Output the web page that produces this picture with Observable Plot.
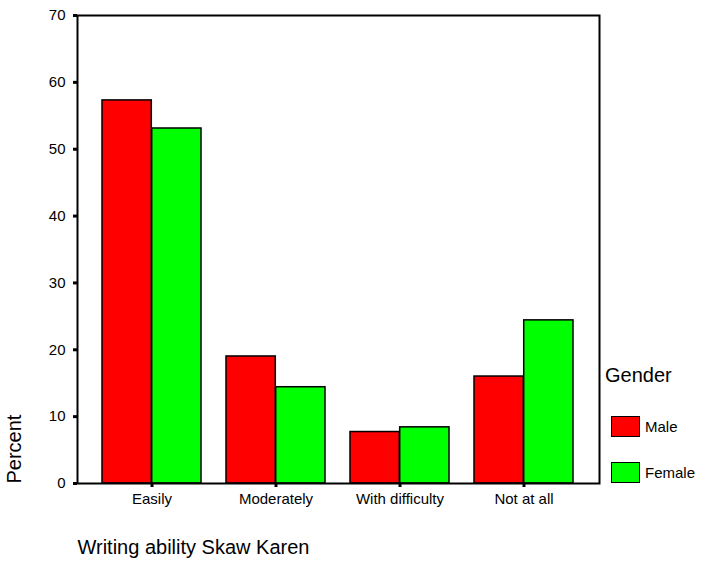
<!DOCTYPE html>
<html>
<head>
<meta charset="utf-8">
<script src="https://cdn.jsdelivr.net/npm/d3@7"></script>
<script src="https://cdn.jsdelivr.net/npm/@observablehq/plot@0.6"></script>
<style>
  body { margin: 0; background: white; }
  #wrap { position: relative; width: 702px; height: 565px; font-family: "Liberation Sans", Arial, sans-serif; color: black; }
  #legend { position: absolute; left: 605px; top: 365px; }
  #legend .title { font-size: 20px; line-height: 20px; }
  #legend .item { display: flex; align-items: center; margin-left: 6px; height: 22px; font-size: 15px; }
  #legend .swatch { width: 27px; height: 19px; border: 1.5px solid black; margin-right: 5px; box-sizing: content-box; }
</style>
</head>
<body>
<div id="wrap">
  <div id="chart"></div>
  <div id="legend"></div>
</div>
<script>
const categories = ["Easily", "Moderately", "With difficulty", "Not at all"];
const genders = ["Male", "Female"];
const maleValues = [57.3, 19.0, 7.7, 16.0];
const femaleValues = [53.1, 14.4, 8.4, 24.4];
const yTicks = [0, 10, 20, 30, 40, 50, 60, 70];
const genderColors = ["#ff0000", "#00ff00"];
const xTitle = "Writing ability Skaw Karen";
const yTitle = "Percent";
const legendTitle = "Gender";

const W = 702, H = 565;
const margin = {left: 77, right: 103, top: 15, bottom: 82};
const xOptions = {type: "band", domain: categories, padding: 0.2, range: [margin.left, W - margin.right]};
const half = Plot.scale({x: xOptions}).bandwidth / 2;

const maleData = categories.map((c, i) => ({category: c, gender: genders[0], percent: maleValues[i]}));
const femaleData = categories.map((c, i) => ({category: c, gender: genders[1], percent: femaleValues[i]}));

const chart = Plot.plot({
  width: W,
  height: H,
  marginLeft: margin.left,
  marginRight: margin.right,
  marginTop: margin.top,
  marginBottom: margin.bottom,
  style: {fontFamily: "'Liberation Sans', Arial, sans-serif", fontSize: "15px", background: "white", color: "black"},
  x: {domain: categories, padding: 0.2, label: null, axis: null},
  y: {domain: [0, 70], ticks: yTicks, label: null, axis: null},
  color: {domain: genders, range: genderColors},
  marks: [
    Plot.barY(maleData, {x: "category", y: "percent", fill: "gender", stroke: "black", strokeWidth: 1.5, insetRight: half}),
    Plot.barY(femaleData, {x: "category", y: "percent", fill: "gender", stroke: "black", strokeWidth: 1.5, insetLeft: half}),
    Plot.frame({stroke: "black", strokeWidth: 2}),
    Plot.axisY({ticks: yTicks, tickSize: 4, tickPadding: 8, strokeWidth: 3, fontSize: 15, label: null}),
    Plot.axisX({tickSize: 4, tickPadding: 6, strokeWidth: 3, fontSize: 15, label: null}),
    Plot.text([yTitle], {frameAnchor: "bottom-left", rotate: -90, textAnchor: "start", dx: -57, fontSize: 20}),
    Plot.text([xTitle], {frameAnchor: "bottom-left", textAnchor: "start", dy: 70, fontSize: 20})
  ]
});
document.getElementById("chart").append(chart);

const legend = document.getElementById("legend");
const lt = document.createElement("div");
lt.className = "title";
lt.textContent = legendTitle;
legend.append(lt);
genders.forEach((g, i) => {
  const item = document.createElement("div");
  item.className = "item";
  item.style.marginTop = i === 0 ? "30px" : "24px";
  const sw = document.createElement("div");
  sw.className = "swatch";
  sw.style.background = genderColors[i];
  const lab = document.createElement("span");
  lab.textContent = g;
  item.append(sw, lab);
  legend.append(item);
});
</script>
</body>
</html>
